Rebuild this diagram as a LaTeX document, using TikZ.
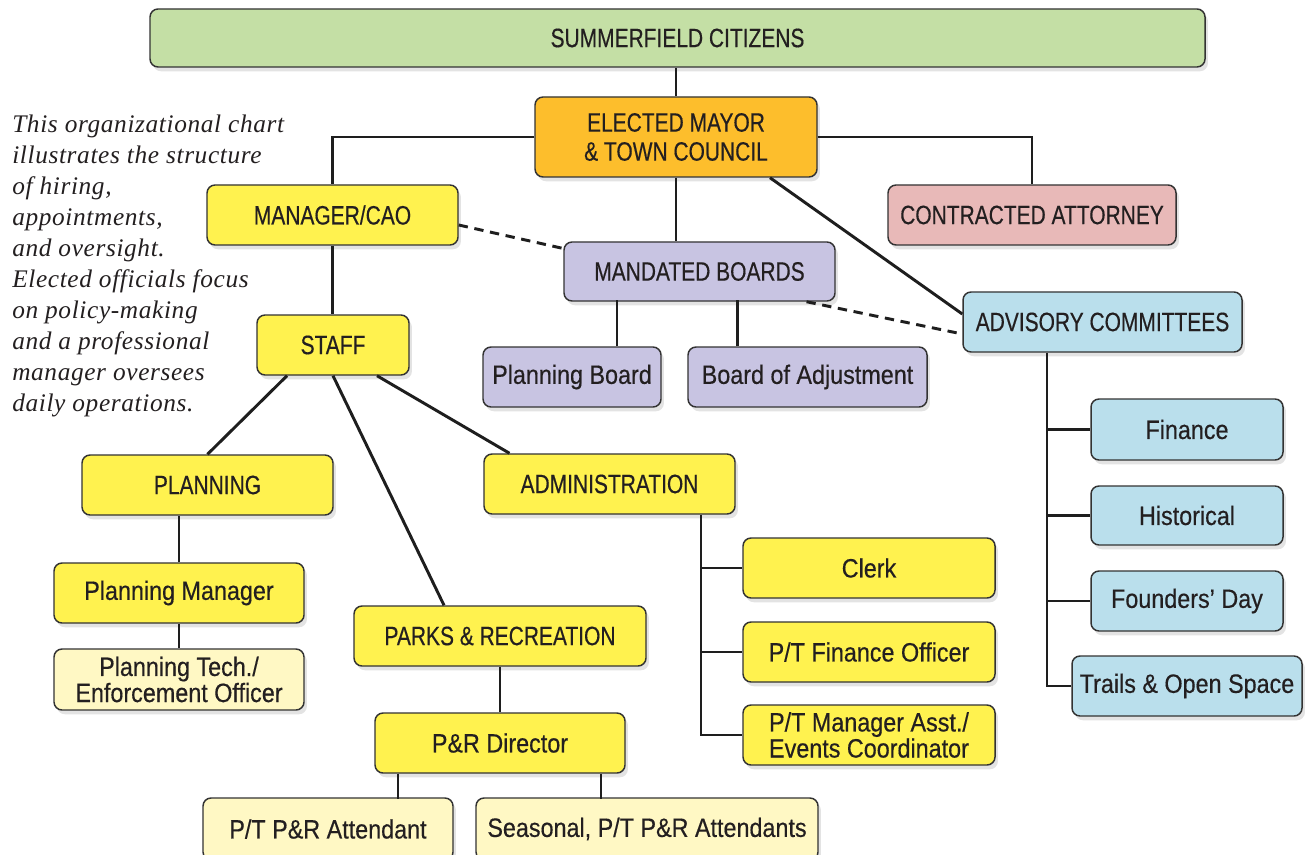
\documentclass[tikz,border=0pt]{standalone}
\usepackage{fontspec}
\setmainfont{Liberation Serif}
\newfontfamily\capf[FakeStretch=0.79,FakeBold=0.4]{Liberation Sans}
\newfontfamily\mixf[FakeStretch=0.88,FakeBold=0.4]{Liberation Sans}
\newfontfamily\notef[LetterSpace=2.5]{Liberation Serif}
\usetikzlibrary{shadows,calc}
\definecolor{cgreen}{HTML}{C4DFA5}
\definecolor{corange}{HTML}{FDBE2C}
\definecolor{cyellow}{HTML}{FFF24F}
\definecolor{clight}{HTML}{FFF8C4}
\definecolor{cpink}{HTML}{E8B9B8}
\definecolor{clav}{HTML}{C8C4E2}
\definecolor{cblue}{HTML}{BADFEC}
\definecolor{bordc}{HTML}{333333}
\definecolor{txtc}{HTML}{231F20}
\definecolor{linec}{HTML}{1E1E1E}
\tikzset{
  box/.style={draw=bordc, line width=1.1pt, rounded corners=6pt, inner sep=0pt,
    align=center, text=txtc,
    drop shadow={shadow xshift=2.2pt, shadow yshift=-3.2pt, opacity=0.22}},
  capbox/.style={box, font=\capf\fontsize{19.9}{21.75}\selectfont},
  mixbox/.style={box, font=\mixf\fontsize{19.9}{17.25}\selectfont},
  link/.style={draw=linec, line width=2.2pt},
  dlink/.style={link, dash pattern=on 7pt off 5pt},
  notestyle/.style={anchor=north west, align=left, inner sep=0pt, text=txtc,
    font=\notef\itshape\fontsize{19}{23.25}\selectfont}
}
\newcommand\bx[7]{\node[#6, minimum width={(#4-#2)*0.75pt}, minimum height={(#5-#3)*0.75pt}] (#1) at ({(#2+#4)/2},{(#3+#5)/2}) {#7};}
\begin{document}
\begin{tikzpicture}[x=0.75pt,y=-0.75pt]
\useasboundingbox (0,0) rectangle (1308,855);
\fill[white] (0,0) rectangle (1308,855);

% nodes
\bx{citizens}{150}{9}{1205}{67}{capbox,fill=cgreen}{SUMMERFIELD CITIZENS}
\bx{mayor}{535}{97}{817}{177}{capbox,fill=corange}{ELECTED MAYOR\\ \& TOWN COUNCIL}
\bx{manager}{207}{185}{458}{245}{capbox,fill=cyellow}{MANAGER/CAO}
\bx{attorney}{888}{185}{1176}{245}{capbox,fill=cpink}{CONTRACTED ATTORNEY}
\bx{mandated}{564}{242}{835}{301}{capbox,fill=clav}{MANDATED BOARDS}
\bx{advisory}{963}{292}{1242}{352}{capbox,fill=cblue}{ADVISORY COMMITTEES}
\bx{staff}{257}{315}{409}{375}{capbox,fill=cyellow}{STAFF}
\bx{pboard}{483}{347}{661}{407}{mixbox,fill=clav}{Planning Board}
\bx{boa}{688}{347}{927}{407}{mixbox,fill=clav}{Board of Adjustment}
\bx{planning}{82}{455}{333}{515}{capbox,fill=cyellow}{PLANNING}
\bx{admin}{484}{454}{735}{514}{capbox,fill=cyellow}{ADMINISTRATION}
\bx{finance}{1091}{399}{1283}{460}{mixbox,fill=cblue}{Finance}
\bx{historical}{1091}{486}{1283}{545}{mixbox,fill=cblue}{Historical}
\bx{founders}{1091}{571}{1283}{631}{mixbox,fill=cblue}{Founders’ Day}
\bx{trails}{1072}{656}{1302}{716}{mixbox,fill=cblue}{Trails \& Open Space}
\bx{clerk}{743}{538}{995}{598}{mixbox,fill=cyellow}{Clerk}
\bx{ptfin}{743}{622}{995}{682}{mixbox,fill=cyellow}{P/T Finance Officer}
\bx{ptmgr}{743}{705}{995}{765}{mixbox,fill=cyellow}{P/T Manager Asst./\\Events Coordinator}
\bx{pmgr}{54}{563}{304}{623}{mixbox,fill=cyellow}{Planning Manager}
\bx{ptech}{54}{649}{304}{710}{mixbox,fill=clight}{Planning Tech./\\Enforcement Officer}
\bx{parks}{354}{606}{646}{666}{capbox,fill=cyellow}{PARKS \& RECREATION}
\bx{prdir}{375}{713}{625}{773}{mixbox,fill=cyellow}{P\&R Director}
\bx{ptatt}{203}{798}{453}{860}{mixbox,fill=clight}{P/T P\&R Attendant}
\bx{season}{476}{798}{818}{860}{mixbox,fill=clight}{Seasonal, P/T P\&R Attendants}

% note
\node[notestyle] (note) at (12,115) {This organizational chart\\
illustrates the structure\\
of hiring,\\
appointments,\\
and oversight.\\
Elected officials focus\\
on policy-making\\
and a professional\\
manager oversees\\
daily operations.};

% connectors
\draw[link] (mayor.north) -- (mayor.north |- citizens.south);
\draw[link] (mayor.west) -| (manager.north);
\draw[link] (mayor.east) -| (attorney.north);
\draw[link] (mayor.south) -- (mayor.south |- mandated.north);
\draw[link] ($(mayor.south)+(94,0)$) -- ($(advisory.west)+(0,-8)$);
\draw[dlink] ($(manager.east)+(0,10)$) -- ($(mandated.west)+(0,-23)$);
\draw[dlink] ($(mandated.south)+(107,0)$) -- ($(advisory.west)+(0,12)$);
\draw[link] (manager.south) -- (manager.south |- staff.north);
\draw[link] ($(pboard.north)+(45,0)$) -- ++(0,-46);
\draw[link] ($(boa.north)+(-70,0)$) -- ++(0,-46);
\draw[link] ($(staff.south)+(-46,0)$) -- (planning.north);
\draw[link] (staff.south) -- ($(parks.north)+(-56,0)$);
\draw[link] ($(staff.south)+(44,0)$) -- ($(admin.north)+(-100,0)$);
\draw[link] (pmgr.north) -- (pmgr.north |- planning.south);
\draw[link] (pmgr.south) -- (ptech.north);
\draw[link] (parks.south) -- (prdir.north);
\draw[link] ($(prdir.south)+(-102,0)$) -- ++(0,25);
\draw[link] ($(prdir.south)+(101,0)$) -- ++(0,25);
\coordinate (adsp) at ($(admin.south)+(91.5,0)$);
\draw[link] (adsp) |- (ptmgr.west);
\draw[link] (adsp |- clerk.west) -- (clerk.west);
\draw[link] (adsp |- ptfin.west) -- (ptfin.west);
\coordinate (avsp) at ($(advisory.south)+(-55.5,0)$);
\draw[link] (avsp) |- (trails.west);
\draw[link] (avsp |- finance.west) -- (finance.west);
\draw[link] (avsp |- historical.west) -- (historical.west);
\draw[link] (avsp |- founders.west) -- (founders.west);
\end{tikzpicture}
\end{document}
